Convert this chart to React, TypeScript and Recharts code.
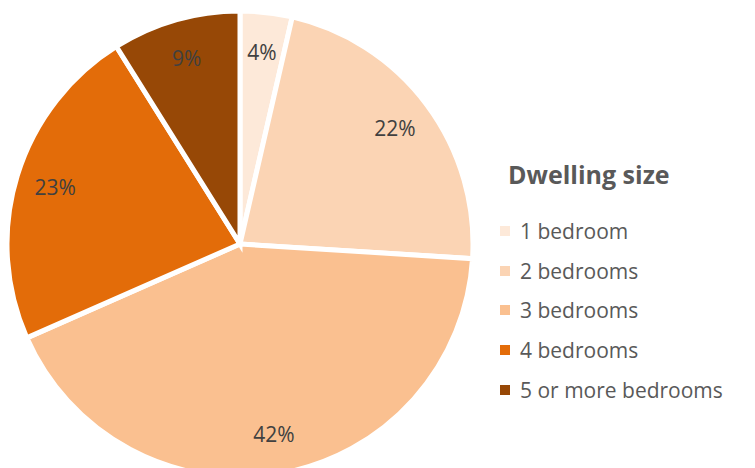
import React from 'react';
import { PieChart, Pie, Cell, Legend } from 'recharts';

const categories = ['1 bedroom', '2 bedrooms', '3 bedrooms', '4 bedrooms', '5 or more bedrooms'];
// shares; labels show the rounded percentages
const shares = [3.6, 22.4, 42.4, 22.7, 8.9];
const COLORS = ['#FDE9D9', '#FBD4B4', '#FAC090', '#E36C09', '#974806'];

const data = categories.map((name, i) => ({ name, value: shares[i] }));

const FONT = '"Open Sans", "Noto Sans", sans-serif';
const RADIAN = Math.PI / 180;

const renderLabel = (props: any) => {
  const { cx, cy, midAngle, outerRadius, value } = props;
  const r = outerRadius * 0.83;
  const x = cx + r * Math.cos(-midAngle * RADIAN);
  const y = cy + r * Math.sin(-midAngle * RADIAN);
  return (
    <text x={x} y={y} fill="#404040" fontSize={21} fontFamily={FONT} textAnchor="middle" dominantBaseline="central">
      {`${Math.round(value)}%`}
    </text>
  );
};

// legend drawn as a plain list so the title sits above the items
const renderLegend = () => (
  <div style={{ fontFamily: FONT, color: '#595959' }}>
    <div style={{ fontSize: 25, fontWeight: 'bold', height: 40, lineHeight: '40px', marginBottom: 17, marginLeft: 8 }}>
      Dwelling size
    </div>
    {categories.map((c, i) => (
      <div key={c} style={{ display: 'flex', alignItems: 'center', height: 39.7, fontSize: 21 }}>
        <span style={{ width: 10, height: 10, background: COLORS[i], display: 'inline-block', marginRight: 10 }} />
        {c}
      </div>
    ))}
  </div>
);

export default function App() {
  return (
    <div style={{ width: 755, height: 468, background: '#fff' }}>
      <style>{'body{margin:0}'}</style>
      <PieChart width={755} height={468} margin={{ top: 0, right: 0, bottom: 0, left: 0 }}>
        <Pie
          data={data}
          dataKey="value"
          nameKey="name"
          cx={240}
          cy={244}
          outerRadius={233}
          startAngle={90}
          endAngle={-270}
          stroke="#ffffff"
          strokeWidth={5}
          labelLine={false}
          label={renderLabel}
          isAnimationActive={false}
        >
          {data.map((entry, index) => (
            <Cell key={`cell-${index}`} fill={COLORS[index]} />
          ))}
        </Pie>
        <Legend content={renderLegend} wrapperStyle={{ left: 500, top: 154, width: 255 }} />
      </PieChart>
    </div>
  );
}
